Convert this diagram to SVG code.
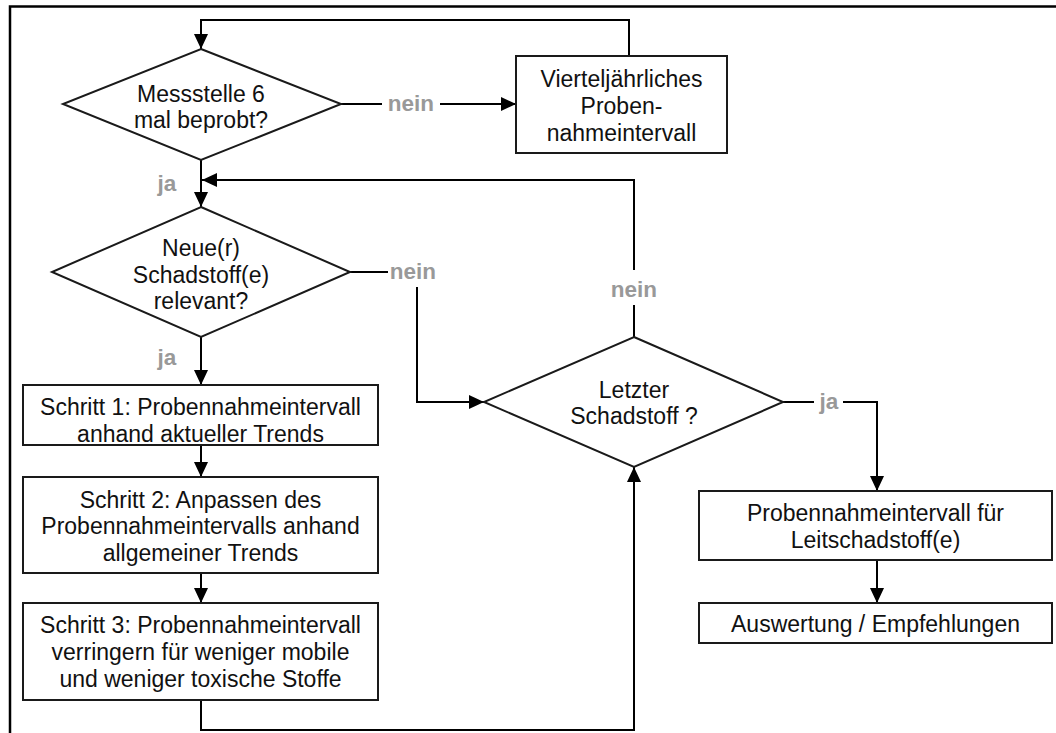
<svg xmlns="http://www.w3.org/2000/svg" width="1056" height="733" viewBox="0 0 1056 733">
<defs>
<marker id="arr" markerUnits="userSpaceOnUse" markerWidth="15" markerHeight="14" refX="15" refY="7" orient="auto">
<path d="M0,0 L15,7 L0,14 z" fill="#000"/>
</marker>
<style>
.n{fill:#fff;stroke:#1a1a1a;stroke-width:2}
.t{font-family:"Liberation Sans",Arial,sans-serif;font-size:23px;fill:#111;text-anchor:middle}
.l{font-family:"Liberation Sans",Arial,sans-serif;font-size:22.5px;font-weight:bold;fill:#999;text-anchor:middle}
.c{fill:none;stroke:#000;stroke-width:2}
</style>
</defs>
<rect width="1056" height="733" fill="#fff"/>
<rect x="10" y="6.5" width="1100" height="800" fill="none" stroke="#000" stroke-width="2.5"/>
<g id="connectors">
<path class="c" d="M629,56 V20 H201 V49" marker-end="url(#arr)"/>
<path class="c" d="M341,104 H382"/>
<path class="c" d="M440,104 H516" marker-end="url(#arr)"/>
<path class="c" d="M201,160 V207" marker-end="url(#arr)"/>
<path class="c" d="M634,337 V305"/>
<path class="c" d="M634,270 V180 H202" marker-end="url(#arr)"/>
<path class="c" d="M350,272 H388"/>
<path class="c" d="M417,287 V402 H484" marker-end="url(#arr)"/>
<path class="c" d="M201,337 V385" marker-end="url(#arr)"/>
<path class="c" d="M201,445 V477" marker-end="url(#arr)"/>
<path class="c" d="M201,573 V603" marker-end="url(#arr)"/>
<path class="c" d="M201,700 V730 H634 V467" marker-end="url(#arr)"/>
<path class="c" d="M783,402 H814"/>
<path class="c" d="M843,402 H877 V491" marker-end="url(#arr)"/>
<path class="c" d="M877,560 V603" marker-end="url(#arr)"/>
<text class="l" x="411" y="111">nein</text>
<text class="l" x="167" y="191">ja</text>
<text class="l" x="413" y="279">nein</text>
<text class="l" x="167" y="365">ja</text>
<text class="l" x="634" y="297">nein</text>
<text class="l" x="829" y="409">ja</text>
</g>
<g id="d1">
<polygon class="n" points="201,49 341,104 201,160 63,104"/>
<text class="t" x="201" y="102">Messstelle 6</text>
<text class="t" x="201" y="128">mal beprobt?</text>
</g>
<g id="quarterly">
<rect class="n" x="516" y="56" width="211" height="97"/>
<text class="t" x="621.5" y="87">Vierteljährliches</text>
<text class="t" x="621.5" y="114">Proben-</text>
<text class="t" x="621.5" y="141">nahmeintervall</text>
</g>
<g id="d2">
<polygon class="n" points="201,207 350,272 201,337 52,272"/>
<text class="t" x="201" y="256">Neue(r)</text>
<text class="t" x="201" y="283">Schadstoff(e)</text>
<text class="t" x="201" y="309">relevant?</text>
</g>
<g id="step1">
<rect class="n" x="23" y="385" width="355" height="60"/>
<text class="t" x="200.5" y="415">Schritt 1: Probennahmeintervall</text>
<text class="t" x="200.5" y="442">anhand aktueller Trends</text>
</g>
<g id="step2">
<rect class="n" x="23" y="477" width="355" height="96"/>
<text class="t" x="200.5" y="508">Schritt 2: Anpassen des</text>
<text class="t" x="200.5" y="534">Probennahmeintervalls anhand</text>
<text class="t" x="200.5" y="561">allgemeiner Trends</text>
</g>
<g id="step3">
<rect class="n" x="23" y="603" width="355" height="97"/>
<text class="t" x="200.5" y="633">Schritt 3: Probennahmeintervall</text>
<text class="t" x="200.5" y="660">verringern für weniger mobile</text>
<text class="t" x="200.5" y="687">und weniger toxische Stoffe</text>
</g>
<g id="d3">
<polygon class="n" points="634,337 783,402 634,467 484,402"/>
<text class="t" x="634" y="398">Letzter</text>
<text class="t" x="634" y="424">Schadstoff ?</text>
</g>
<g id="lead">
<rect class="n" x="699" y="491" width="353" height="69"/>
<text class="t" x="875.5" y="521">Probennahmeintervall für</text>
<text class="t" x="875.5" y="548">Leitschadstoff(e)</text>
</g>
<g id="eval">
<rect class="n" x="699" y="603" width="353" height="40"/>
<text class="t" x="875.5" y="632">Auswertung / Empfehlungen</text>
</g>
</svg>
